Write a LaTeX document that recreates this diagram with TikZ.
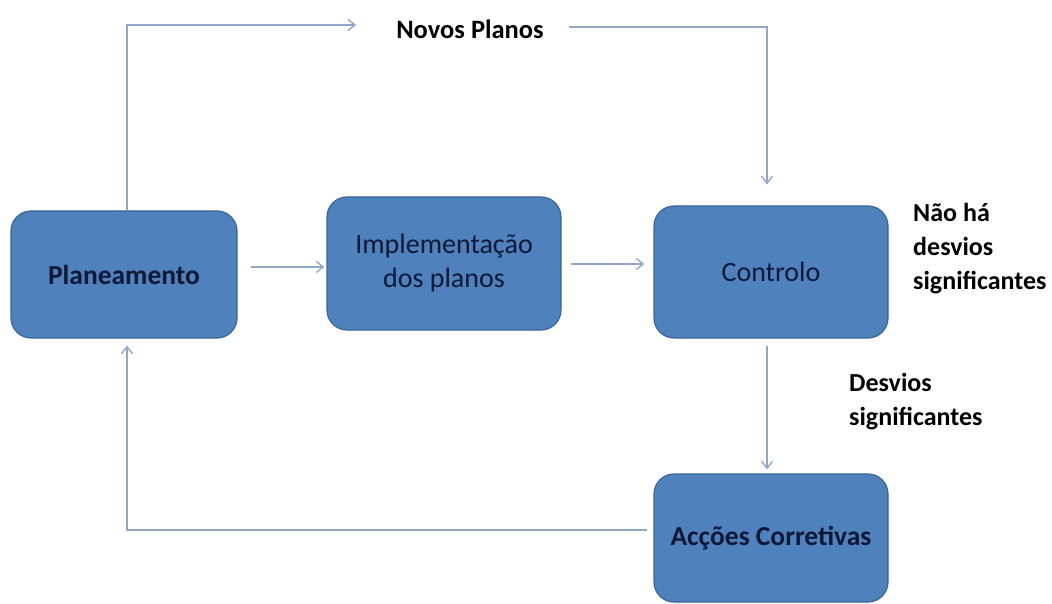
\documentclass[tikz,border=0pt]{standalone}
\usepackage{fontspec}
\setmainfont{Carlito}
\usetikzlibrary{arrows.meta}
\definecolor{boxfill}{HTML}{4F81BD}
\definecolor{boxline}{HTML}{3A6595}
\definecolor{boxtext}{HTML}{0C1835}
\definecolor{wire}{HTML}{8FA7CB}
\tikzset{
  stage/.style={draw=boxline, line width=1.2pt, fill=boxfill, rounded corners=20pt,
    text=boxtext, align=center, font=\fontsize{28}{34}\selectfont, inner sep=0pt},
  boldstage/.style={stage, font=\bfseries\fontsize{27.5}{34}\selectfont},
  note/.style={align=left, text=black, font=\bfseries\fontsize{26}{34}\selectfont, inner sep=0pt},
  wirearrow/.style={draw=wire, line width=1.4pt, -{Straight Barb[length=7pt,width=11pt,line width=1.4pt]}}
}
\begin{document}
\begin{tikzpicture}[x=1pt,y=-1pt]
\useasboundingbox (0,0) rectangle (1052,604);
% process stages
\node[boldstage, minimum width=226pt, minimum height=127pt] (plan) at (124,274.5) {Planeamento};
\node[stage, minimum width=234pt, minimum height=133pt] (impl) at (444,263.5) {Implementação\\dos planos};
\node[stage, minimum width=234pt, minimum height=132pt] (ctrl) at (771,272) {Controlo};
\node[boldstage, minimum width=234pt, minimum height=128pt] (acc) at (771,538) {Acções Corretivas};
% labels
\node[note, font=\bfseries\fontsize{26.5}{34}\selectfont] (np) at (470,29) {Novos Planos};
\node[note, anchor=north west] (nd) at (913,203) {Não há\\desvios\\significantes};
\node[note, anchor=north west] (ds) at (849,373) {Desvios\\significantes};
% connectors
\draw[wirearrow, shorten <=13pt, shorten >=2pt] (plan.east|-0,267) -- (impl.west|-0,267);
\draw[wirearrow, shorten <=9pt, shorten >=9pt] (impl.east|-0,264) -- (ctrl.west|-0,264);
\draw[wirearrow, shorten >=40pt] ([xshift=3pt]plan.north) |- ([yshift=4pt]np.west);
\draw[wirearrow, shorten <=25pt, shorten >=21pt] ([yshift=2pt]np.east) -| ([xshift=-4pt]ctrl.north);
\draw[wirearrow, shorten <=7pt, shorten >=4pt] ([xshift=-4pt]ctrl.south) -- ([xshift=-4pt]acc.north);
\draw[wirearrow, shorten <=6pt, shorten >=7pt] (acc.west|-0,530) -| ([xshift=3pt]plan.south);
\end{tikzpicture}
\end{document}
